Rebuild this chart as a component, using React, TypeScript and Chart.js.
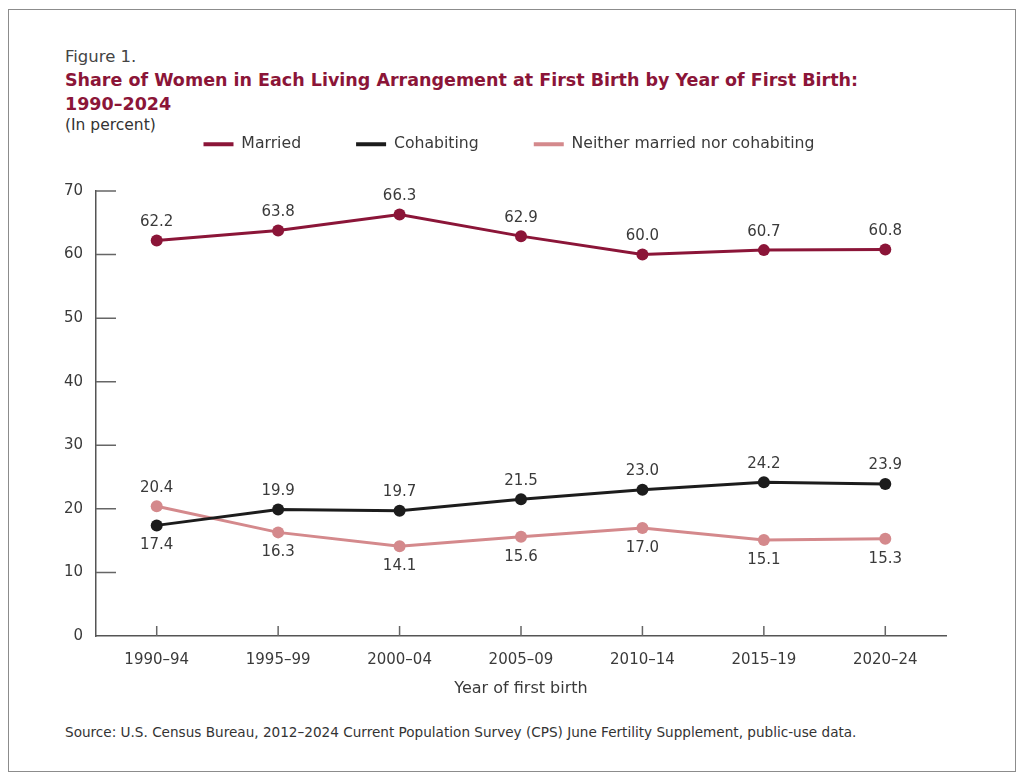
import React, { useEffect, useRef } from "react";
import { Chart, registerables } from "chart.js";

Chart.register(...registerables);

const categories = ["1990–94", "1995–99", "2000–04", "2005–09", "2010–14", "2015–19", "2020–24"];
const married = [62.2, 63.8, 66.3, 62.9, 60.0, 60.7, 60.8];
const cohabiting = [17.4, 19.9, 19.7, 21.5, 23.0, 24.2, 23.9];
const neither = [20.4, 16.3, 14.1, 15.6, 17.0, 15.1, 15.3];
const seriesNames = ["Married", "Cohabiting", "Neither married nor cohabiting"];
const yMin = 0;
const yMax = 70;
const yStep = 10;
// label placement per point: true = above the marker
const marriedAbove = [true, true, true, true, true, true, true];
const cohabitingAbove = [false, true, true, true, true, true, true];
const neitherAbove = [true, false, false, false, false, false, false];

const COLORS = ["#8b1538", "#1c1c1c", "#d4898c"];
const FONT = '"DejaVu Sans", "Open Sans", sans-serif';
const TEXT = "#3a3a3a";

const labelAbove = [marriedAbove, cohabitingAbove, neitherAbove];

const legendSpacer = {
  id: "legendSpacer",
  beforeUpdate(chart: any) {
    const legend = chart.legend;
    if (legend && !legend.__patched) {
      const orig = legend.fit;
      legend.fit = function () {
        orig.call(this);
        this.height += 28.8;
      };
      legend.__patched = true;
    }
  },
  afterLayout(chart: any) {
    const legend = chart.legend;
    if (legend) {
      legend.left = 0;
      legend.right = 1000;
    }
  },
};

const innerTicks = {
  id: "innerTicks",
  beforeDatasetsDraw(chart: any) {
    const { ctx, chartArea, scales } = chart;
    const xs = scales.x;
    const ys = scales.y;
    ctx.save();
    ctx.strokeStyle = "#666";
    ctx.lineWidth = 1.5;
    ctx.beginPath();
    ys.ticks.forEach((t: any) => {
      if (t.value === yMin) return;
      const py = ys.getPixelForValue(t.value);
      ctx.moveTo(chartArea.left, py);
      ctx.lineTo(chartArea.left + 20, py);
    });
    categories.forEach((_c, i) => {
      const px = xs.getPixelForValue(i);
      ctx.moveTo(px, chartArea.bottom);
      ctx.lineTo(px, chartArea.bottom - 10);
    });
    ctx.stroke();
    ctx.restore();
  },
};

const dataLabels = {
  id: "dataLabels",
  afterDatasetsDraw(chart: any) {
    const ctx = chart.ctx;
    ctx.save();
    ctx.font = `15px ${FONT}`;
    ctx.fillStyle = TEXT;
    ctx.textAlign = "center";
    ctx.textBaseline = "middle";
    chart.data.datasets.forEach((ds: any, i: number) => {
      const meta = chart.getDatasetMeta(i);
      meta.data.forEach((pt: any, j: number) => {
        const above = labelAbove[i][j];
        ctx.fillText(Number(ds.data[j]).toFixed(1), pt.x, pt.y + (above ? -18.5 : 20));
      });
    });
    ctx.restore();
  },
};

export default function App() {
  const ref = useRef<HTMLCanvasElement | null>(null);

  useEffect(() => {
    if (!ref.current) return;
    const series = [married, cohabiting, neither];
    const chart = new Chart(ref.current, {
      type: "line",
      data: {
        labels: categories,
        datasets: series.map((d, i) => ({
          label: seriesNames[i],
          data: d,
          borderColor: COLORS[i],
          backgroundColor: COLORS[i],
          pointBackgroundColor: COLORS[i],
          pointBorderColor: COLORS[i],
          borderWidth: 3,
          pointRadius: 6,
          pointBorderWidth: 0,
          tension: 0,
        })),
      },
      options: {
        responsive: false,
        animation: false,
        layout: { padding: { top: 21.5, left: 37, right: 69, bottom: 0 } },
        plugins: {
          tooltip: { enabled: false },
          legend: {
            display: true,
            position: "top",
            labels: {
              boxWidth: 30,
              boxHeight: 4,
              padding: 55,
              color: TEXT,
              font: { family: FONT, size: 15.7 },
              generateLabels: (chart: any) =>
                Chart.defaults.plugins.legend.labels
                  .generateLabels(chart)
                  .map((l: any) => ({ ...l, lineWidth: 0 })),
            },
          },
        },
        scales: {
          x: {
            type: "category",
            offset: true,
            grid: { display: false, drawTicks: false },
            border: { display: true, color: "#555", width: 1.5 },
            ticks: { padding: 15, color: TEXT, font: { family: FONT, size: 15 } },
            title: {
              display: true,
              text: "Year of first birth",
              color: TEXT,
              font: { family: FONT, size: 16 },
              padding: { top: 0, bottom: 0 },
            },
            afterFit: (s: any) => {
              s.height = 62;
            },
          },
          y: {
            min: yMin,
            max: yMax,
            grid: { display: false, drawTicks: false },
            border: { display: true, color: "#555", width: 1.5 },
            ticks: { stepSize: yStep, padding: 13, color: TEXT, font: { family: FONT, size: 15 } },
            afterFit: (s: any) => {
              s.width = 50;
            },
          },
        },
      },
      plugins: [legendSpacer, innerTicks, dataLabels],
    } as any);
    return () => chart.destroy();
  }, []);

  return (
    <div
      style={{
        position: "relative",
        width: 1008,
        height: 763,
        marginTop: 1,
        border: "1px solid #8c8c8c",
        boxSizing: "border-box",
        fontFamily: FONT,
        color: TEXT,
        background: "#fff",
      }}
    >
      <div style={{ position: "absolute", left: 56, top: 37, fontSize: 16.5, lineHeight: "20px", color: "#444" }}>
        Figure 1.
      </div>
      <div
        style={{
          position: "absolute",
          left: 56,
          top: 58,
          fontSize: 17.5,
          lineHeight: "24px",
          fontWeight: 700,
          color: COLORS[0],
          whiteSpace: "nowrap",
        }}
      >
        Share of Women in Each Living Arrangement at First Birth by Year of First Birth:
        <br />
        1990–2024
      </div>
      <div style={{ position: "absolute", left: 56, top: 105, fontSize: 15.5, lineHeight: "20px", color: "#333" }}>
        (In percent)
      </div>
      <canvas
        ref={ref}
        width={1006}
        height={638}
        style={{ position: "absolute", left: 0, top: 50, width: 1006, height: 638 }}
      />
      <div
        style={{
          position: "absolute",
          left: 56,
          top: 712,
          fontSize: 13.6,
          lineHeight: "20px",
          color: "#333",
          whiteSpace: "nowrap",
        }}
      >
        Source: U.S. Census Bureau, 2012–2024 Current Population Survey (CPS) June Fertility Supplement, public-use data.
      </div>
    </div>
  );
}
